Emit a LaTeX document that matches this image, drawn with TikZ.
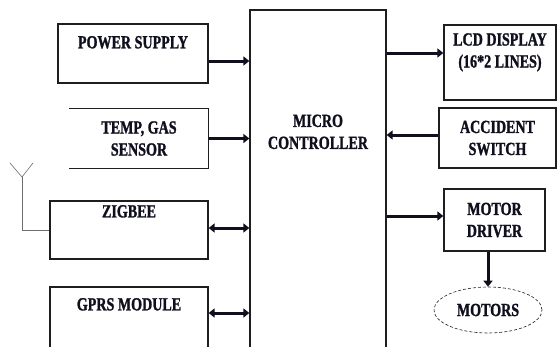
\documentclass[tikz,border=0pt]{standalone}
\usepackage{fontspec}
\newfontfamily\blockfont{Liberation Serif}[FakeStretch=0.76, BoldFeatures={FakeBold=1.3}]
\usetikzlibrary{arrows.meta, positioning, shapes.geometric}
\definecolor{myink}{RGB}{15,15,30}
\definecolor{myline}{RGB}{30,30,30}
\definecolor{mygray}{RGB}{110,110,110}
\tikzset{
  block/.style={rectangle, draw=myline, line width=1.3pt, inner sep=0pt,
    align=center, text=myink, font=\blockfont\bfseries\fontsize{18.5pt}{22pt}\selectfont},
  openblock/.style={block, draw=none},
  lbl/.style={inner sep=0pt, align=center, text=myink,
    font=\blockfont\bfseries\fontsize{18.5pt}{22pt}\selectfont},
  motorell/.style={ellipse, draw=myline, densely dashed, line width=0.6pt,
    minimum width=108pt, minimum height=46pt, inner sep=0pt, text=myink,
    font=\blockfont\bfseries\fontsize{18.5pt}{22pt}\selectfont},
  arrow/.style={-{Triangle[length=6pt,width=9pt]}, line width=3pt, color=myink},
  dblarrow/.style={{Triangle[length=6pt,width=9pt]}-{Triangle[length=6pt,width=9pt]},
    line width=3pt, color=myink},
  line/.style={line width=1.3pt, color=myline}
}
\begin{document}
\begin{tikzpicture}[x=1pt, y=-1pt]
  \clip (0,0) rectangle (557,346);
  \fill[white] (0,0) rectangle (557,346);

  % Micro controller
  \node[block, minimum width=136pt, minimum height=340pt] (mcu) at (318,180) {};
  \node[lbl] (mcutxt) at ([yshift=-122.5pt]mcu.north) {MICRO\\CONTROLLER};

  % Left side blocks
  \node[block, minimum width=150pt, minimum height=59pt] (pwr) at (133,53.5) {};
  \node[lbl] (pwrtxt) at ([yshift=-19pt]pwr.north) {POWER SUPPLY};

  \node[openblock, minimum width=138pt, minimum height=59pt] (sen) at (139,138.5) {TEMP, GAS\\SENSOR};
  \draw[line] (sen.north west) -- (sen.north east) -- (sen.south east) -- (sen.south west);

  \node[block, minimum width=158pt, minimum height=58pt] (zig) at (129,230) {};
  \node[lbl] (zigtxt) at ([yshift=-11pt]zig.north) {ZIGBEE};

  \node[block, minimum width=158pt, minimum height=62pt] (gprs) at (129,318) {};
  \node[lbl] (gprstxt) at ([yshift=-18pt]gprs.north) {GPRS MODULE};

  % Antenna
  \coordinate (ant) at (22,177);
  \draw[line width=0.7pt, color=mygray] (zig.west) -| (ant);
  \draw[line width=0.6pt, color=mygray] (ant) -- ++(-12,-14);
  \draw[line width=0.6pt, color=mygray] (ant) -- ++(11,-14);

  % Right side blocks
  \node[block, minimum width=112pt, minimum height=75pt] (lcd) at (500,62.5) {};
  \node[lbl] (lcdtxt) at ([yshift=-28pt]lcd.north) {LCD DISPLAY\\(16*2 LINES)};

  \node[block, minimum width=117pt, minimum height=60pt] (acc) at (497.5,138) {ACCIDENT\\SWITCH};

  \node[block, minimum width=101pt, minimum height=62pt] (drv) at (494.5,220) {MOTOR\\DRIVER};

  \node[motorell] (mot) at (488,310) {MOTORS};

  % Connection points
  \coordinate (pwrout) at ([yshift=-7.5pt]pwr.east);
  \coordinate (zigio) at ([yshift=2pt]zig.east);
  \coordinate (gprsio) at ([yshift=5pt]gprs.east);
  \coordinate (lcdin) at ([yshift=9.5pt]lcd.west);
  \coordinate (accout) at ([yshift=3pt]acc.west);
  \coordinate (drvin) at ([yshift=4pt]drv.west);

  % Arrows
  \draw[arrow] (pwrout) -- (pwrout -| mcu.west);
  \draw[arrow] (sen.east) -- (sen.east -| mcu.west);
  \draw[dblarrow] (zigio) -- (zigio -| mcu.west);
  \draw[dblarrow] (gprsio) -- (gprsio -| mcu.west);
  \draw[arrow] (lcdin -| mcu.east) -- (lcdin);
  \draw[arrow] (accout) -- (accout -| mcu.east);
  \draw[arrow] (drvin -| mcu.east) -- (drvin);
  \draw[arrow] (drv.south -| mot.north) -- (mot.north);
\end{tikzpicture}
\end{document}
